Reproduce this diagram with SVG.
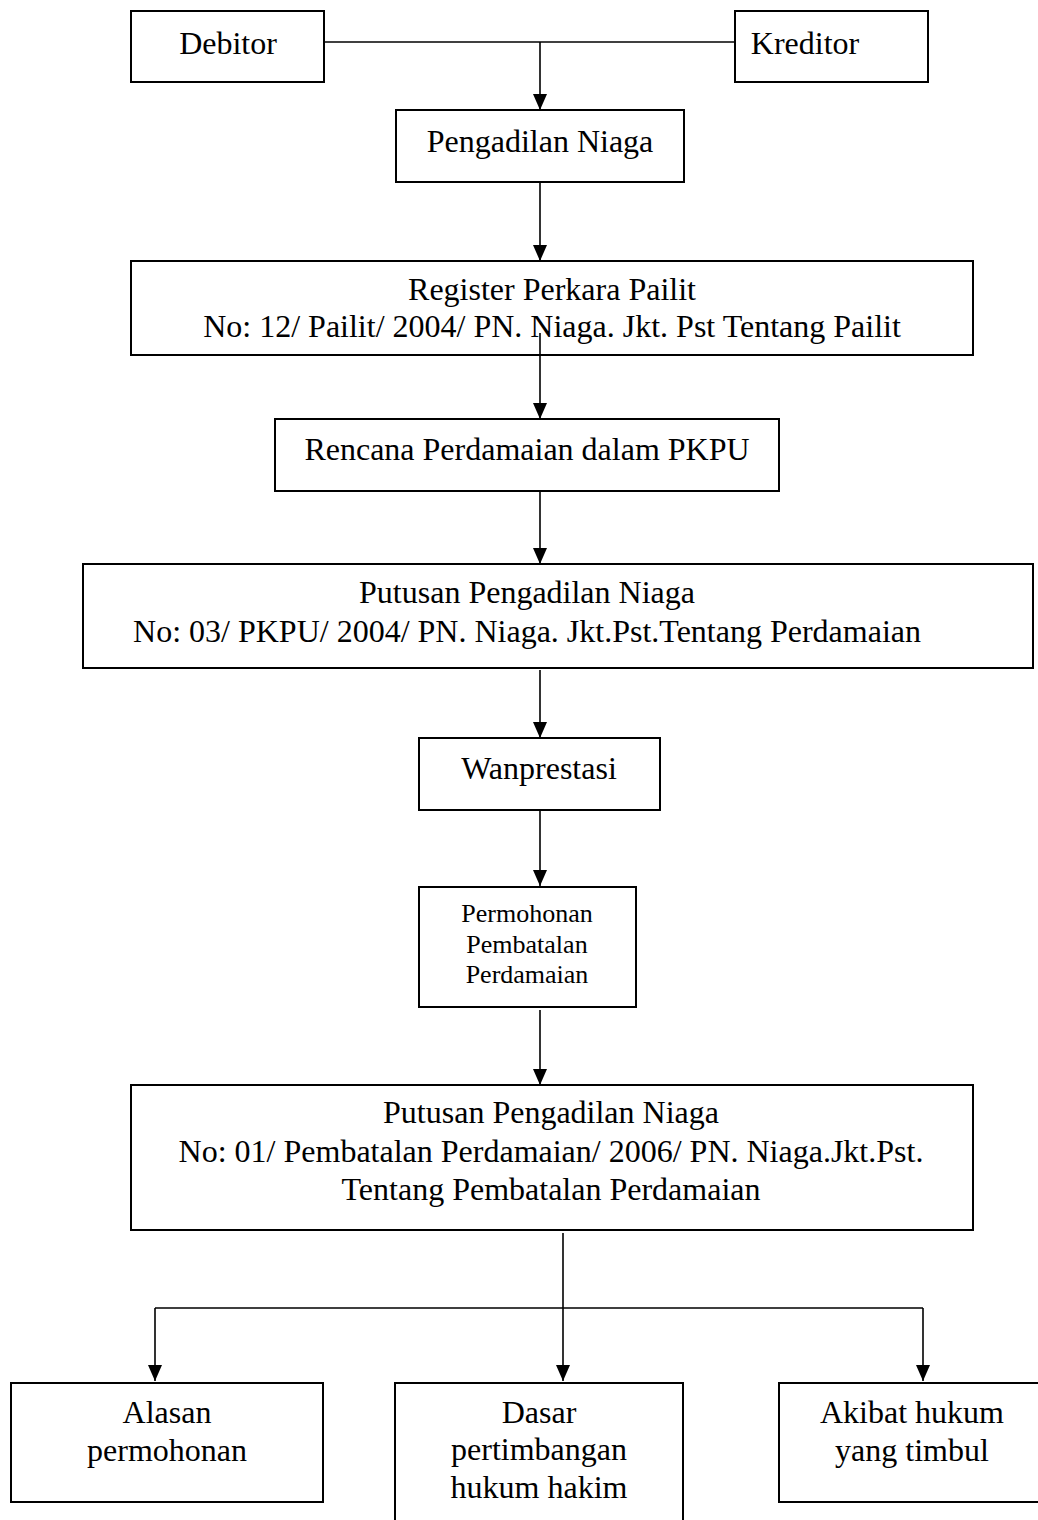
<svg xmlns="http://www.w3.org/2000/svg" width="1038" height="1520" viewBox="0 0 1038 1520">
<style>
.box{fill:#fff;stroke:#000;stroke-width:2}
.t{font-family:"Liberation Serif","Times New Roman",serif;font-size:32px;fill:#000;text-anchor:middle}
.s{font-size:26px}
.ln{fill:none;stroke:#000;stroke-width:1.6}
.ar{marker-end:url(#ah)}
</style>
<defs>
<marker id="ah" markerUnits="userSpaceOnUse" markerWidth="16" markerHeight="14" refX="16" refY="7" orient="auto">
<path d="M0,0 L16,7 L0,14 z" fill="#000"/>
</marker>
</defs>
<rect width="1038" height="1520" fill="#fff"/>
<g id="debitor"><rect class="box" x="131" y="11" width="193" height="71"/><text class="t" x="228" y="54">Debitor</text></g>
<g id="kreditor"><rect class="box" x="735" y="11" width="193" height="71"/><text class="t" x="805" y="54">Kreditor</text></g>
<g id="pengadilan"><rect class="box" x="396" y="110" width="288" height="72"/><text class="t" x="540" y="152">Pengadilan Niaga</text></g>
<g id="register"><rect class="box" x="131" y="261" width="842" height="94"/><text class="t" x="552" y="300">Register Perkara Pailit</text><text class="t" x="552" y="337">No: 12/ Pailit/ 2004/ PN. Niaga. Jkt. Pst Tentang Pailit</text></g>
<g id="rencana"><rect class="box" x="275" y="419" width="504" height="72"/><text class="t" x="527" y="460">Rencana Perdamaian dalam PKPU</text></g>
<g id="putusan1"><rect class="box" x="83" y="564" width="950" height="104"/><text class="t" x="527" y="603">Putusan Pengadilan Niaga</text><text class="t" x="527" y="642">No: 03/ PKPU/ 2004/ PN. Niaga. Jkt.Pst.Tentang Perdamaian</text></g>
<g id="wanprestasi"><rect class="box" x="419" y="738" width="241" height="72"/><text class="t" x="539" y="779">Wanprestasi</text></g>
<g id="permohonan"><rect class="box" x="419" y="887" width="217" height="120"/><text class="t s" x="527" y="922">Permohonan</text><text class="t s" x="527" y="953">Pembatalan</text><text class="t s" x="527" y="983">Perdamaian</text></g>
<g id="putusan2"><rect class="box" x="131" y="1085" width="842" height="145"/><text class="t" x="551" y="1123">Putusan Pengadilan Niaga</text><text class="t" x="551" y="1162">No: 01/ Pembatalan Perdamaian/ 2006/ PN. Niaga.Jkt.Pst.</text><text class="t" x="551" y="1200">Tentang Pembatalan Perdamaian</text></g>
<g id="alasan"><rect class="box" x="11" y="1383" width="312" height="119"/><text class="t" x="167" y="1423">Alasan</text><text class="t" x="167" y="1461">permohonan</text></g>
<g id="dasar"><rect class="box" x="395" y="1383" width="288" height="150"/><text class="t" x="539" y="1423">Dasar</text><text class="t" x="539" y="1460">pertimbangan</text><text class="t" x="539" y="1498">hukum hakim</text></g>
<g id="akibat"><rect class="box" x="779" y="1383" width="270" height="119"/><text class="t" x="912" y="1423">Akibat hukum</text><text class="t" x="912" y="1461">yang timbul</text></g>
<g id="connectors">
<path class="ln" d="M324,42 H735"/>
<path class="ln ar" d="M540,42 V110"/>
<path class="ln ar" d="M540,182 V261"/>
<path class="ln ar" d="M540,333 V419"/>
<path class="ln ar" d="M540,491 V564"/>
<path class="ln ar" d="M540,670 V738"/>
<path class="ln ar" d="M540,810 V886"/>
<path class="ln ar" d="M540,1010 V1085"/>
<path class="ln ar" d="M563,1233 V1381"/>
<path class="ln ar" d="M155,1308 H923 M155,1308 V1381"/>
<path class="ln ar" d="M923,1308 V1381"/>
</g>
</svg>
